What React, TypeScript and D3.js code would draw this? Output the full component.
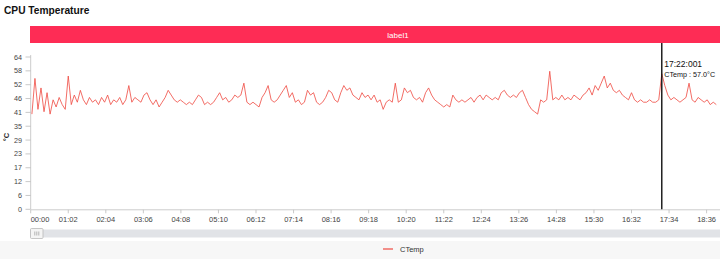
import React from "react";
import * as d3 from "d3";

// CPU temperature samples (°C), one every 5 minutes starting at 00:02
const sampleStart = 2;
const sampleStep = 5;
const temps = [
  40, 55, 42, 51, 41, 49, 40, 46, 43, 47, 44, 42, 56, 44, 48, 45, 50, 46,
  44, 47, 45, 46, 44, 47, 45, 48, 44, 46, 45, 47, 44, 46, 52, 45, 47, 46,
  45, 48, 49, 46, 44, 46, 43, 45, 47, 50, 48, 46, 45, 46, 45, 44, 45, 44,
  46, 48, 47, 44, 45, 44, 45, 47, 49, 46, 47, 45, 46, 48, 47, 48, 53, 45,
  44, 45, 44, 43, 47, 49, 52, 46, 45, 46, 48, 50, 52, 47, 49, 45, 46, 44,
  45, 50, 48, 49, 45, 44, 45, 47, 50, 49, 46, 45, 49, 52, 50, 51, 48, 47,
  46, 49, 47, 48, 46, 48, 45, 46, 42, 45, 46, 45, 53, 45, 46, 51, 49, 50,
  47, 46, 47, 45, 49, 51, 48, 46, 45, 44, 43, 44, 43, 48, 46, 45, 46, 45,
  46, 47, 45, 47, 48, 46, 48, 47, 46, 47, 46, 49, 50, 48, 47, 48, 47, 49,
  50, 47, 44, 42, 41, 40, 46, 45, 46, 58, 46, 47, 46, 48, 46, 47, 46, 48,
  47, 46, 48, 49, 51, 48, 52, 50, 53, 56, 51, 53, 50, 49, 50, 48, 47, 46,
  49, 46, 45, 46, 45, 45, 46, 45, 45, 46, 57, 52, 48, 46, 47, 46, 45, 46,
  47, 53, 46, 45, 47, 46, 45, 46, 44, 45, 44,
];

const yTickLabels = ["0", "6", "12", "17", "23", "29", "35", "41", "46", "52", "58", "64"];
const xTickLabels = [
  "00:00", "01:02", "02:04", "03:06", "04:08", "05:10", "06:12", "07:14", "08:16", "09:18",
  "10:20", "11:22", "12:24", "13:26", "14:28", "15:30", "16:32", "17:34", "18:36",
];

const seriesName = "CTemp";
const title = "CPU Temperature";
const bandLabel = "label1";
const cursorTime = "17:22";
const cursorTitle = "17:22:001";
const cursorValue = 57.0;

const toMin = (s: string) => {
  const [h, m] = s.split(":").map(Number);
  return h * 60 + m;
};

const FONT = "'Liberation Sans', Arial, Helvetica, sans-serif";
const LINE = "#ef4a42";

export default function App() {
  const W = 720;
  const H = 259;
  const left = 30.7;
  const top = 57;
  const bottom = 209.3;

  const x = d3.scaleLinear().domain([0, toMin("18:36")]).range([left, 706.6]);
  const y = d3.scaleLinear().domain([0, 64]).range([bottom, top]);

  const line = d3
    .line<number>()
    .x((_, i) => x(sampleStart + i * sampleStep))
    .y((d) => y(d));

  const yStep = 64 / (yTickLabels.length - 1);
  const cx = x(toMin(cursorTime));

  return (
    <div style={{ position: "absolute", left: 0, top: 0 }}>
      <svg width={W} height={H} style={{ display: "block", fontFamily: FONT }}>
        <rect width={W} height={H} fill="#fff" />
        <rect x={0} y={241} width={W} height={H - 241} fill="#f7f7f7" />

        <text x={4} y={14} fontSize={10.2} fontWeight="bold" fill="#111">
          {title}
        </text>

        <rect x={30} y={26} width={W - 30} height={17} fill="#fe2c55" />
        <text x={398} y={37.5} fontSize={8} fill="#fff" textAnchor="middle">
          {bandLabel}
        </text>

        {/* y axis */}
        <line x1={left} x2={left} y1={top - 2} y2={bottom} stroke="#ccc" strokeWidth={1} />
        {yTickLabels.map((t, i) => {
          const yy = y(i * yStep);
          return (
            <g key={t}>
              <line x1={25.5} x2={left} y1={yy} y2={yy} stroke="#bbb" strokeWidth={0.8} />
              <text x={22} y={yy + 2.5} fontSize={7.2} fill="#444" textAnchor="end">
                {t}
              </text>
            </g>
          );
        })}
        <text
          transform={`translate(8.5,137) rotate(-90)`}
          fontSize={7.5}
          fontWeight="bold"
          fill="#222"
          textAnchor="middle"
        >
          °C
        </text>

        {/* x axis */}
        <line x1={left} x2={W} y1={bottom + 0.5} y2={bottom + 0.5} stroke="#ccc" strokeWidth={1} />
        {xTickLabels.map((t, i) => {
          const xx = x(toMin(t));
          return (
            <g key={t}>
              <line x1={xx} x2={xx} y1={bottom + 0.5} y2={bottom + 4} stroke="#bbb" strokeWidth={0.8} />
              <text
                x={xx}
                y={222}
                fontSize={7.5}
                fill="#444"
                textAnchor={i === 0 ? "start" : "middle"}
              >
                {t}
              </text>
            </g>
          );
        })}

        {/* series */}
        <path d={line(temps) ?? ""} fill="none" stroke={LINE} strokeWidth={0.9} strokeOpacity={0.9} />

        {/* cursor + tooltip */}
        <line x1={cx} x2={cx} y1={43} y2={bottom} stroke="#111" strokeWidth={1.4} />
        <text x={cx + 2.5} y={66.5} fontSize={8.5} fill="#111">
          {cursorTitle}
        </text>
        <text x={cx + 2.5} y={76.5} fontSize={7.2} fill="#111">
          {`${seriesName} : ${cursorValue.toFixed(1)}°C`}
        </text>

        {/* data zoom slider */}
        <rect x={30} y={229.5} width={W - 30} height={8} fill="#e1e3e7" />
        <rect x={30.5} y={228.5} width={12.5} height={10} rx={1} fill="#f4f4f4" stroke="#b9b9b9" strokeWidth={0.8} />
        {[34.8, 36.8, 38.8].map((lx) => (
          <line key={lx} x1={lx} x2={lx} y1={231.5} y2={235.5} stroke="#999" strokeWidth={0.7} />
        ))}

        {/* legend */}
        <line x1={383} x2={393} y1={249} y2={249} stroke={LINE} strokeWidth={1.2} />
        <text x={400} y={251.8} fontSize={7.5} fill="#333">
          {seriesName}
        </text>
      </svg>
    </div>
  );
}
